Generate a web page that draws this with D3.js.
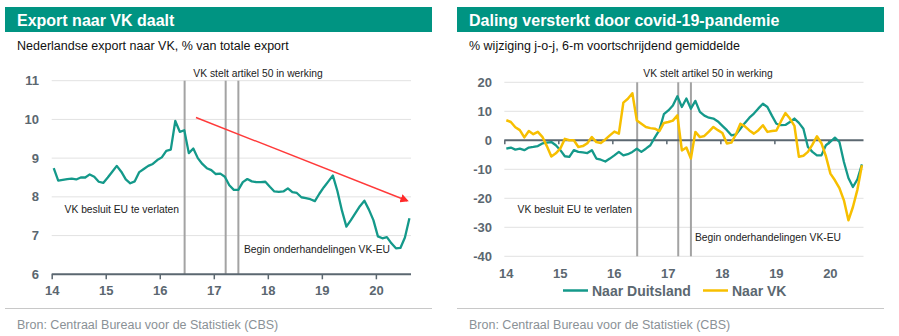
<!DOCTYPE html>
<html><head><meta charset="utf-8">
<script src="https://cdn.jsdelivr.net/npm/d3@7"></script>
<style>
body{margin:0;background:#fff;}
svg{display:block;font-family:"Liberation Sans",Arial,sans-serif;}
</style></head>
<body><svg id="c" width="899" height="336"></svg>
<script>
// ---- data (monthly, Jan 2014 – Aug 2020) ----
const startYear = 2014;
const exportVK = [8.74,8.42,8.44,8.46,8.47,8.45,8.5,8.5,8.58,8.52,8.39,8.36,
  8.5,8.65,8.8,8.65,8.45,8.35,8.4,8.64,8.72,8.8,8.85,8.95,
  9.02,9.19,9.22,9.96,9.68,9.72,9.13,9.25,9.0,8.85,8.74,8.69,
  8.59,8.6,8.52,8.3,8.18,8.18,8.38,8.46,8.4,8.38,8.38,8.39,
  8.26,8.14,8.13,8.14,8.22,8.12,8.1,7.99,7.97,7.94,7.89,8.08,
  8.25,8.4,8.55,8.15,7.65,7.23,7.4,7.58,7.76,7.9,7.67,7.4,
  6.98,6.93,6.96,6.8,6.67,6.68,6.95,7.45];
const naarDuitsland = [-2.9,-2.5,-3.2,-2.9,-3.4,-2.5,-2.3,-2.0,-1.1,-0.8,-0.6,-1.7,
  -3.4,-5.5,-5.7,-3.4,-4.0,-4.2,-4.4,-3.4,-6.3,-6.7,-7.3,-6.3,
  -5.2,-4.0,-5.2,-4.8,-4.0,-2.9,-4.0,-2.9,-1.7,1.0,3.5,9.0,
  10.3,12.0,15.2,11.5,14.4,10.9,13.6,9.8,8.5,7.8,7.5,6.5,
  5.0,3.5,1.7,2.0,4.0,6.0,7.8,9.2,11.0,12.6,11.5,8.5,
  5.7,5.2,5.3,6.3,7.5,6.0,4.0,-2.3,-4.0,-5.2,-5.2,-1.7,
  -0.5,0.9,-0.6,-7.5,-13.0,-16.1,-13.5,-8.3];
const naarVK = [6.9,6.3,4.5,3.5,1.0,3.2,2.1,2.9,1.2,-2.0,-5.6,-4.5,
  -2.8,0.5,0.0,0.0,-2.3,-2.0,-1.0,1.1,-0.6,-0.9,0.3,1.7,
  3.0,2.3,13.0,14.3,16.2,6.8,5.7,4.6,4.2,4.0,3.2,6.0,
  6.3,6.8,8.6,-3.5,-2.5,-6.3,2.9,1.1,1.5,3.0,4.6,3.5,
  2.5,-1.1,-0.8,2.0,5.7,4.8,3.4,2.3,3.5,5.2,2.9,3.2,
  3.4,6.5,9.4,7.5,5.0,-5.7,-5.3,-4.0,-1.5,1.4,-1.0,-5.5,
  -11.5,-13.8,-16.5,-20.7,-27.6,-23.0,-17.0,-8.6];
const yearTicks = [2014,2015,2016,2017,2018,2019,2020];
const yearLabels = ["14","15","16","17","18","19","20"];
const leftTicks = [6,7,8,9,10,11];
const rightTicks = [-40,-30,-20,-10,0,10,20];
const events = [
  {t:2016.46, label:"VK besluit EU te verlaten"},
  {t:2017.22, label:"VK stelt artikel 50 in werking"},
  {t:2017.455, label:"Begin onderhandelingen VK-EU"}
];
const trendArrow = [{t:2016.67, v:10.05},{t:2020.58, v:7.9}];
const seriesNames = ["Naar Duitsland","Naar VK"];

const TEAL = "#14998a", HEAD = "#009482", YEL = "#f7bf00", GREY = "#5b6770";
const svg = d3.select("#c");
const months = exportVK.map((d,i)=> startYear + (i+0.45)/12);

function panel(ox, title, subtitle){
  svg.append("rect").attr("x",ox+5).attr("y",7).attr("width",427).attr("height",25).attr("fill",HEAD);
  svg.append("text").attr("x",ox+17).attr("y",25.5).attr("fill","#fff")
    .attr("font-size",16).attr("font-weight","bold").text(title);
  svg.append("text").attr("x",ox+17).attr("y",49.5).attr("fill","#111")
    .attr("font-size",12.5).text(subtitle);
  svg.append("line").attr("x1",ox+5).attr("x2",ox+432).attr("y1",308.5).attr("y2",308.5)
    .attr("stroke","#c8c8c8").attr("stroke-width",1);
  svg.append("text").attr("x",ox+17).attr("y",328.5).attr("fill","#8a9196")
    .attr("font-size",12.5).text("Bron: Centraal Bureau voor de Statistiek (CBS)");
}
panel(0,"Export naar VK daalt","Nederlandse export naar VK, % van totale export");
panel(452,"Daling versterkt door covid-19-pandemie","% wijziging j-o-j, 6-m voortschrijdend gemiddelde");

// ---------- left chart ----------
const xL = d3.scaleLinear().domain([2014,2020.65]).range([51.7,411]);
const yL = d3.scaleLinear().domain([6,11]).range([274.3,80.7]);
const gL = svg.append("g");
gL.selectAll(".grid").data(leftTicks.filter(d=>d>6)).join("line")
  .attr("x1",51.7).attr("x2",411).attr("y1",d=>yL(d)).attr("y2",d=>yL(d))
  .attr("stroke","#e2e2e2").attr("stroke-width",1);
gL.selectAll(".yl").data(leftTicks).join("text")
  .attr("x",39).attr("y",d=>yL(d)+4.5).attr("text-anchor","end")
  .attr("font-size",13).attr("font-weight","bold").attr("fill",GREY).text(d=>d);
gL.selectAll(".ev").data(events).join("line")
  .attr("x1",d=>xL(d.t)).attr("x2",d=>xL(d.t)).attr("y1",yL(11)).attr("y2",yL(6))
  .attr("stroke","#a3a3a3").attr("stroke-width",2);
const axL = gL.append("g").attr("transform","translate(0,"+yL(6)+")")
  .call(d3.axisBottom(xL).tickValues(yearTicks).tickFormat((d,i)=>yearLabels[i]).tickSize(5).tickPadding(6));
axL.select(".domain").attr("stroke",GREY).attr("stroke-width",2).attr("d","M51.7,0H411");
axL.selectAll(".tick line").attr("stroke",GREY).attr("stroke-width",1.5);
axL.selectAll(".tick text").attr("font-size",13).attr("font-weight","bold").attr("fill",GREY)
  .attr("font-family","Liberation Sans, Arial, sans-serif");
gL.append("path").datum(exportVK)
  .attr("d",d3.line().x((d,i)=>xL(months[i])).y(d=>yL(d)))
  .attr("fill","none").attr("stroke",TEAL).attr("stroke-width",2.3).attr("stroke-linejoin","round");
svg.append("defs").append("marker").attr("id","arr").attr("viewBox","0 0 10 10")
  .attr("refX",8).attr("refY",5).attr("markerWidth",6).attr("markerHeight",6).attr("orient","auto")
  .append("path").attr("d","M0,0L10,5L0,10z").attr("fill","#ff2a2a");
gL.append("line").attr("x1",xL(trendArrow[0].t)).attr("y1",yL(trendArrow[0].v))
  .attr("x2",xL(trendArrow[1].t)).attr("y2",yL(trendArrow[1].v))
  .attr("stroke","#ff3a3a").attr("stroke-width",1.4).attr("marker-end","url(#arr)");
function annots(g, x, pos){
  g.selectAll(".an").data(events).join("text")
    .attr("x",(d,i)=>pos[i][0]).attr("y",(d,i)=>pos[i][1])
    .attr("text-anchor",(d,i)=>pos[i][2])
    .attr("font-size",10.3).attr("fill","#222").text(d=>d.label);
}
annots(gL, xL, [[179,213,"end"],[258,76.5,"middle"],[244,253,"start"]]);

// ---------- right chart ----------
const xR = d3.scaleLinear().domain([2014,2020.65]).range([504.3,863.5]);
const yR = d3.scaleLinear().domain([-40,20]).range([256.3,82.3]);
const gR = svg.append("g");
gR.selectAll(".grid").data(rightTicks.filter(d=>d!==0)).join("line")
  .attr("x1",504.3).attr("x2",863.5).attr("y1",d=>yR(d)).attr("y2",d=>yR(d))
  .attr("stroke","#e2e2e2").attr("stroke-width",1);
gR.selectAll(".yl").data(rightTicks).join("text")
  .attr("x",492).attr("y",d=>yR(d)+4.5).attr("text-anchor","end")
  .attr("font-size",13).attr("font-weight","bold").attr("fill",GREY).text(d=>d);
gR.selectAll(".ev").data(events).join("line")
  .attr("x1",d=>xR(d.t)).attr("x2",d=>xR(d.t)).attr("y1",yR(20)).attr("y2",yR(-40))
  .attr("stroke","#a3a3a3").attr("stroke-width",2);
const axR = gR.append("g").attr("transform","translate(0,"+yR(0)+")")
  .call(d3.axisBottom(xR).tickValues(yearTicks).tickFormat("").tickSize(4));
axR.select(".domain").attr("stroke",GREY).attr("stroke-width",2).attr("d","M504.3,0H863.5");
axR.selectAll(".tick line").attr("stroke",GREY).attr("stroke-width",1.5);
gR.selectAll(".xl").data(yearTicks).join("text")
  .attr("x",d=>xR(d)+2).attr("y",278).attr("text-anchor","middle")
  .attr("font-size",13).attr("font-weight","bold").attr("fill",GREY).text((d,i)=>yearLabels[i]);
const lineR = d3.line().x((d,i)=>xR(months[i])).y(d=>yR(d));
gR.append("path").datum(naarDuitsland).attr("d",lineR)
  .attr("fill","none").attr("stroke",TEAL).attr("stroke-width",2.3).attr("stroke-linejoin","round");
gR.append("path").datum(naarVK).attr("d",lineR)
  .attr("fill","none").attr("stroke",YEL).attr("stroke-width",2.5).attr("stroke-linejoin","round");
annots(gR, xR, [[632,213,"end"],[708,76.5,"middle"],[695,241,"start"]]);
// legend
const leg = [{name:seriesNames[0],c:TEAL,x:563},{name:seriesNames[1],c:YEL,x:703}];
const lg = gR.selectAll(".lg").data(leg).join("g");
lg.append("line").attr("x1",d=>d.x).attr("x2",d=>d.x+25).attr("y1",290.5).attr("y2",290.5)
  .attr("stroke",d=>d.c).attr("stroke-width",2.5);
lg.append("text").attr("x",d=>d.x+29).attr("y",295.5).attr("font-size",14).attr("font-weight","bold")
  .attr("fill",GREY).text(d=>d.name);
</script></body></html>
